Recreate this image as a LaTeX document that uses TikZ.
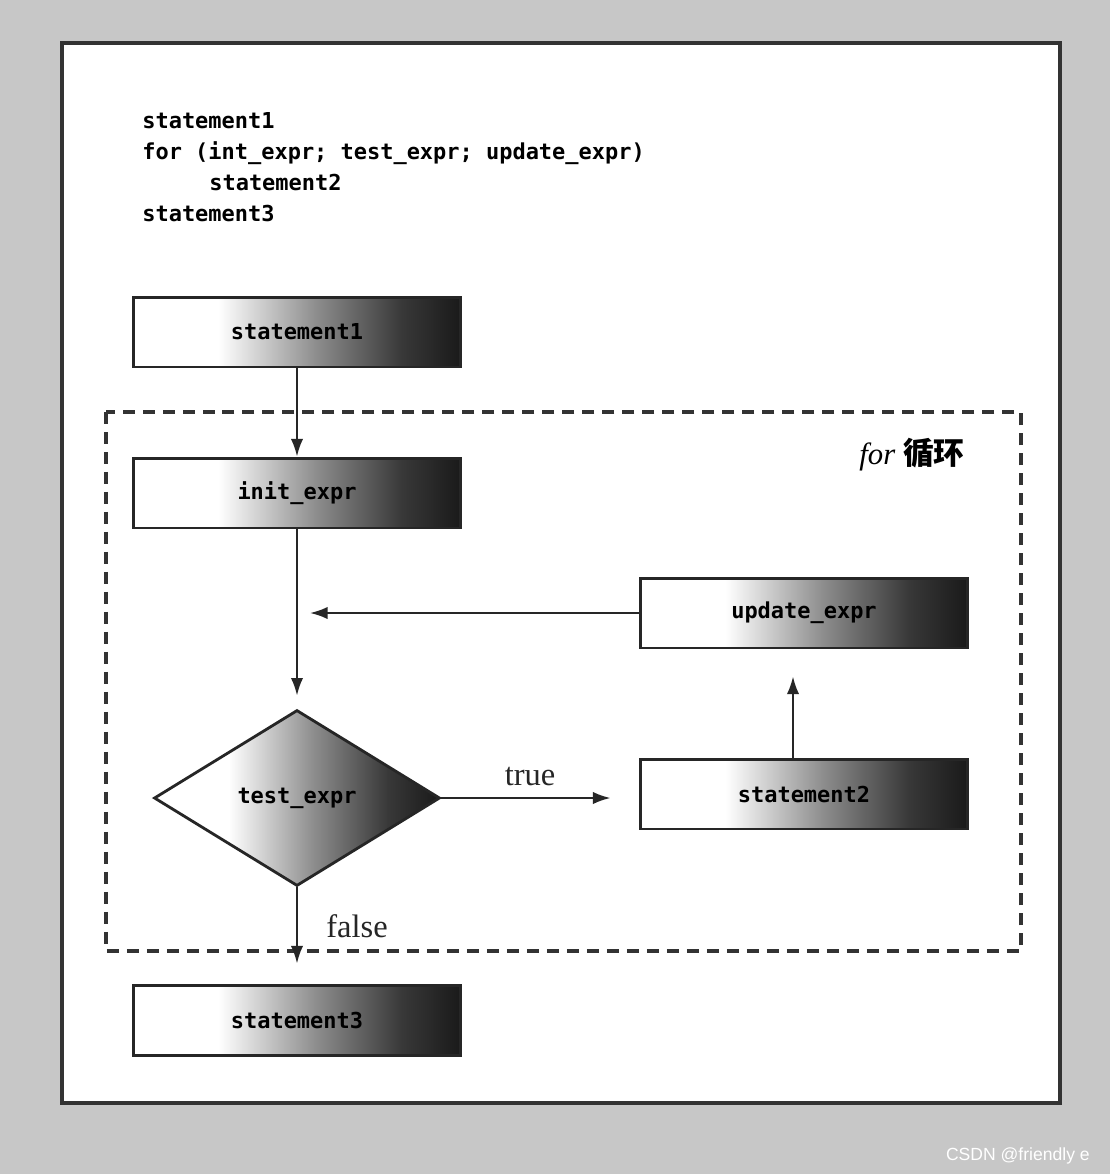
\documentclass[tikz,border=0pt]{standalone}
\usepackage{fontspec}
\setmainfont{Liberation Serif}
\setmonofont{DejaVu Sans Mono}
\newfontfamily\cjkfont{Noto Sans CJK SC}
\newfontfamily\markfont{Liberation Sans}
\usetikzlibrary{arrows.meta,calc,shapes.geometric}
\pgfdeclarehorizontalshading{boxshade}{100bp}{color(0bp)=(white); color(25bp)=(white); color(38bp)=(white); color(53bp)=(black!45); color(66bp)=(black!78); color(75bp)=(black!90); color(100bp)=(black!90)}

\begin{document}
\begin{tikzpicture}[x=0.02cm,y=-0.02cm,>={Latex[length=10pt,width=7pt]},
 codeline/.style={anchor=west,inner sep=0,text height=1.5ex,text depth=.35ex,font=\ttfamily\bfseries\fontsize{12.5}{15}\selectfont},
 stmtbox/.style={draw=black!85,line width=1.7pt,shade,shading=boxshade,minimum width=6.56cm,minimum height=1.4cm,inner sep=0,font=\ttfamily\bfseries\fontsize{12.5}{15}\selectfont},
 testbox/.style={diamond,draw=black!85,line width=1.6pt,shade,shading=boxshade,minimum width=5.72cm,minimum height=3.52cm,inner sep=0,font=\ttfamily\bfseries\fontsize{12.5}{15}\selectfont},
 flow/.style={->,line width=1.2pt,black!85},
 lbl/.style={font=\fontsize{18.5}{20}\selectfont}]
 % page and frame
 \fill[black!22] (0,0) rectangle (1110,1174);
 \useasboundingbox (0,0) rectangle (1110,1174);
 \draw[fill=white,draw=black!80,line width=2pt] (62,43) rectangle (1060,1103);
 % the code
 \node[codeline] (code1) at (142,124) {statement1};
 \node[codeline] (code2) at (142,155) {for (int\_expr; test\_expr; update\_expr)};
 \node[codeline] (code3) at (209,186) {statement2};
 \node[codeline] (code4) at (142,217) {statement3};
 % loop frame
 \draw[black!80,line width=1.8pt,dash pattern=on 0.24cm off 0.16cm] (106,412) rectangle (1021,951);
 \node[lbl,font=\fontsize{17.5}{20}\selectfont] (looplbl) at (912,455) {\textit{for} {\cjkfont\bfseries 循环}};
 % flow chart
 \node[stmtbox] (stmt1) at (297,332) {statement1};
 \node[stmtbox] (init) at (297,493) {init\_expr};
 \node[stmtbox] (update) at (804,613) {update\_expr};
 \node[testbox] (test) at (297,798) {test\_expr};
 \node[stmtbox] (stmt2) at (804,794) {statement2};
 \node[stmtbox] (stmt3) at (297,1020) {statement3};
 \coordinate (merge) at (297,613);
 \draw[flow] (stmt1) -- (init);
 \draw[flow,shorten >=0.26cm] (init) -- (test);
 \draw[flow,shorten >=0.26cm] (update.west) -- (merge);
 \draw[flow,shorten >=0.54cm] ([xshift=-0.22cm]stmt2.north) -- ([xshift=-0.22cm]update.south);
 \draw[flow,shorten >=0.56cm] (test.east) -- (test.east -| stmt2.west) node[lbl,pos=0.45,above,yshift=0.1cm] (truelbl) {true};
 \draw[flow,shorten >=0.4cm] (test.south) -- (stmt3.north) node[lbl,pos=0.4,right,xshift=0.45cm] (falselbl) {false};
 % watermark
 \node[anchor=east,text=white,font=\markfont\fontsize{10}{12}\selectfont] (mark) at (1096,1156) {CSDN @friendly e};
\end{tikzpicture}
\end{document}
